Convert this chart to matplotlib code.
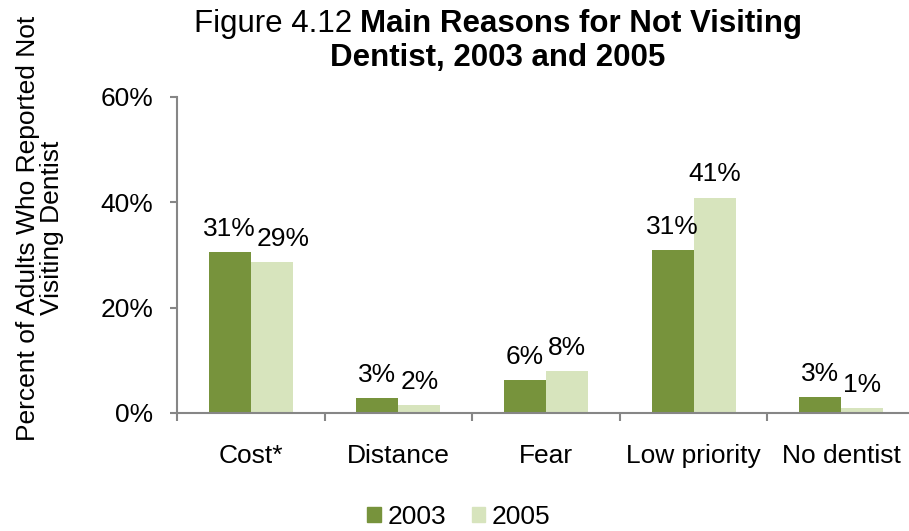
import numpy as np
import matplotlib.pyplot as plt
from matplotlib.patches import Patch

categories = ["Cost*", "Distance", "Fear", "Low priority", "No dentist"]
pct_2003 = [30.5, 2.9, 6.3, 30.9, 3.1]
pct_2005 = [28.6, 1.5, 8.0, 40.9, 1.0]
labels_2003 = ["31%", "3%", "6%", "31%", "3%"]
labels_2005 = ["29%", "2%", "8%", "41%", "1%"]
yticks = [0, 20, 40, 60]

dark = "#77933C"
light = "#D7E4BD"
grey = "#868686"
fs = 19

plt.rcParams['font.family'] = ['Liberation Sans', 'DejaVu Sans']

fig = plt.figure(figsize=(9.09, 5.31), dpi=100)
ax = fig.add_axes([177/909, 1-413/531, 738/909, 316/531])

x = np.arange(len(categories))
w = 0.284
ax.bar(x - w/2, pct_2003, w, color=dark, label="2003")
ax.bar(x + w/2, pct_2005, w, color=light, label="2005")

for xi, v, s in zip(x, pct_2003, labels_2003):
    ax.annotate(s, (xi - w/2, v), xytext=(0, 8), textcoords="offset points",
                ha="center", va="bottom", fontsize=fs)
for xi, v, s in zip(x, pct_2005, labels_2005):
    dx = 8 if s == "29%" else 0
    ax.annotate(s, (xi + w/2, v), xytext=(dx, 8), textcoords="offset points",
                ha="center", va="bottom", fontsize=fs)

ax.set_xlim(-0.5, len(categories) - 0.5)
ax.set_ylim(0, 60)
ax.set_yticks(yticks)
ax.set_yticklabels([f"{t}%" for t in yticks], fontsize=fs)
ax.set_xticks(x)
ax.set_xticklabels(categories, fontsize=fs)
ax.set_xticks(np.arange(len(categories) + 1) - 0.5, minor=True)
ax.tick_params(axis="x", which="major", length=0, pad=22)
ax.tick_params(axis="x", which="minor", length=6, color=grey, width=1.5, direction="out")
ax.tick_params(axis="y", length=5, color=grey, width=1.5, pad=12)

for side in ["top", "right"]:
    ax.spines[side].set_visible(False)
for side in ["left", "bottom"]:
    ax.spines[side].set_color(grey)
    ax.spines[side].set_linewidth(1.5)

ax.set_ylabel("Percent of Adults Who Reported Not\nVisiting Dentist", fontsize=fs,
              linespacing=1.0)
ax.yaxis.set_label_coords((64 - 177)/738, (413 - 228)/316)

# title with normal + bold parts
fig.canvas.draw()
r = fig.canvas.get_renderer()
tfs = 22.5
t1 = fig.text(0, 0, "Figure 4.12 ", fontsize=tfs, va="center")
t2 = fig.text(0, 0, "Main Reasons for Not Visiting", fontsize=tfs, fontweight="bold",
              va="center")
w1 = t1.get_window_extent(r).width
w2 = t2.get_window_extent(r).width
cx = 498
x0 = cx - (w1 + w2) / 2
y1 = 1 - 24/531
t1.set_position((x0/909, y1))
t2.set_position(((x0 + w1)/909, y1))
fig.text(cx/909, 1 - 58/531, "Dentist, 2003 and 2005", fontsize=tfs,
         fontweight="bold", ha="center", va="center")

handles = [Patch(color=dark, label="2003"), Patch(color=light, label="2005")]
fig.legend(handles=handles, loc="center", bbox_to_anchor=(459/909, 1 - 517/531),
           ncol=2, frameon=False, fontsize=fs, handlelength=0.5, handleheight=0.5,
           handletextpad=0.25, columnspacing=1.0)

fig.savefig("out.png", dpi=100)
